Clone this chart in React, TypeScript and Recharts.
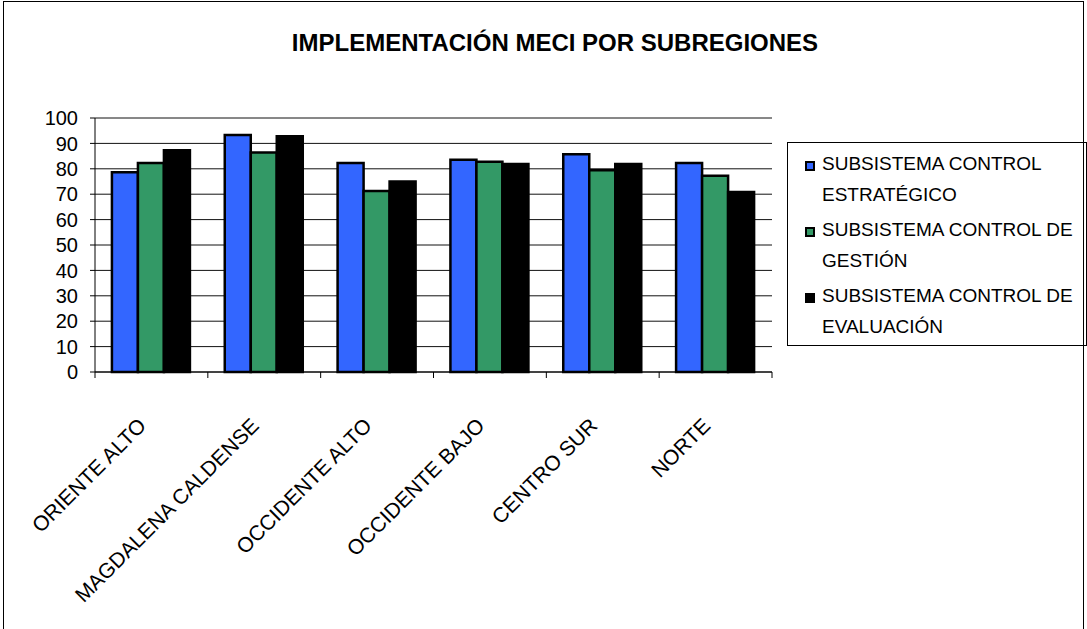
import React from 'react';
import { BarChart, Bar, XAxis, YAxis, CartesianGrid, ReferenceLine } from 'recharts';

const regions = ['ORIENTE ALTO', 'MAGDALENA CALDENSE', 'OCCIDENTE ALTO', 'OCCIDENTE BAJO', 'CENTRO SUR', 'NORTE'];
const estrategico = [78.6, 93.3, 82.3, 83.6, 85.7, 82.3];
const gestion = [82.3, 86.4, 71.3, 82.8, 79.4, 77.3];
const evaluacion = [87.3, 92.8, 75.0, 81.9, 81.9, 70.9];

const yTicks = [0, 10, 20, 30, 40, 50, 60, 70, 80, 90, 100];

const series = [
  { key: 'estrategico', color: '#3366FF', lines: ['SUBSISTEMA CONTROL', 'ESTRATÉGICO'] },
  { key: 'gestion', color: '#339966', lines: ['SUBSISTEMA CONTROL DE', 'GESTIÓN'] },
  { key: 'evaluacion', color: '#000000', lines: ['SUBSISTEMA CONTROL DE', 'EVALUACIÓN'] },
];

const data = regions.map((name, i) => ({
  name,
  estrategico: estrategico[i],
  gestion: gestion[i],
  evaluacion: evaluacion[i],
}));

const FONT = '"Liberation Sans", Arial, sans-serif';

// rotated category label + Excel-style tick marks on the category boundaries
function RegionTick(props: any) {
  const { x, y, payload, index, visibleTicksCount } = props;
  const half = payload.offset || 0;
  const isLast = index === visibleTicksCount - 1;
  return (
    <g>
      {half > 0 && <line x1={x - half} x2={x - half} y1={y} y2={y + 6} stroke="#000" />}
      {half > 0 && isLast && <line x1={x + half} x2={x + half} y1={y} y2={y + 6} stroke="#000" />}
      <g transform={`translate(${x - 4},${y + 55})`}>
        <text transform="rotate(-45)" textAnchor="end" fontSize={21} fontFamily={FONT} fill="#000">
          {payload.value}
        </text>
      </g>
    </g>
  );
}

function LegendBox() {
  return (
    <div
      style={{
        position: 'absolute',
        left: 787,
        top: 142,
        border: '1px solid #000',
        width: 300,
        height: 204,
        boxSizing: 'border-box',
        padding: '5px 0 0 17px',
        fontFamily: FONT,
        fontSize: 19,
        color: '#000',
      }}
    >
      {series.map((s) => (
        <div key={s.key} style={{ display: 'flex', marginBottom: 4, lineHeight: '31px' }}>
          <div
            style={{
              width: 6,
              height: 6,
              border: '2px solid #000',
              background: s.color,
              marginTop: 13,
              marginRight: 7,
              flexShrink: 0,
            }}
          />
          <div>
            {s.lines.map((l) => (
              <div key={l}>{l}</div>
            ))}
          </div>
        </div>
      ))}
    </div>
  );
}

export default function App() {
  return (
    <div style={{ position: 'absolute', left: 0, top: 0, width: 1087, height: 629, background: '#fff', overflow: 'hidden' }}>
      <div
        style={{
          position: 'absolute',
          left: 3,
          top: 1,
          width: 1081,
          height: 640,
          border: '1px solid #000',
          boxSizing: 'border-box',
        }}
      />
      <div
        style={{
          position: 'absolute',
          left: 0,
          top: 29,
          width: 1110,
          textAlign: 'center',
          fontFamily: FONT,
          fontWeight: 'bold',
          fontSize: 24,
          color: '#000',
        }}
      >
        IMPLEMENTACIÓN MECI POR SUBREGIONES
      </div>
      <BarChart
        width={1087}
        height={629}
        data={data}
        margin={{ top: 118, right: 315, left: 0, bottom: 0 }}
        barCategoryGap="15%"
        barGap={0}
        style={{ position: 'absolute', left: 0, top: 0 }}
      >
        <CartesianGrid vertical={false} stroke="#111" strokeOpacity={1} />
        <XAxis
          dataKey="name"
          interval={0}
          tickLine={false}
          tickSize={0}
          tickMargin={0}
          axisLine={{ stroke: '#000' }}
          tick={<RegionTick />}
          height={257}
        />
        <YAxis
          domain={[0, 100]}
          ticks={yTicks}
          interval={0}
          width={95}
          axisLine={{ stroke: '#000' }}
          tickLine={{ stroke: '#000' }}
          tickSize={5}
          tickMargin={12}
          tick={{ fill: '#000', fontSize: 20, fontFamily: FONT }}
        />
        {/* grey plot-area frame on the right */}
        <YAxis yAxisId="frame" orientation="right" width={0} tick={false} tickLine={false} axisLine={{ stroke: '#888' }} />
        <ReferenceLine y={100} stroke="#888" />
        {series.map((s) => (
          <Bar key={s.key} dataKey={s.key} fill={s.color} stroke="#000" strokeWidth={2.5} isAnimationActive={false} />
        ))}
      </BarChart>
      <LegendBox />
    </div>
  );
}
